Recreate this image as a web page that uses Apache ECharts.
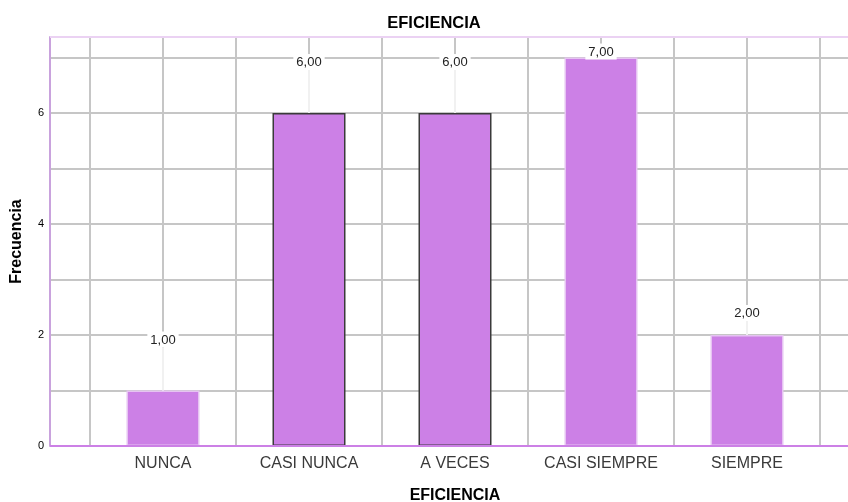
<!DOCTYPE html>
<html><head><meta charset="utf-8">
<script src="https://cdn.jsdelivr.net/npm/echarts@6/dist/echarts.min.js"></script>
<style>html,body{margin:0;padding:0;background:#fff}#c{width:848px;height:502px}</style>
</head><body><div id="c"></div>
<script>
const categories = ['NUNCA', 'CASI NUNCA', 'A VECES', 'CASI SIEMPRE', 'SIEMPRE'];
const frecuencia = [1, 6, 6, 7, 2];
const yTicks = [0, 2, 4, 6];
const titleText = 'EFICIENCIA';
const xName = 'EFICIENCIA';
const yName = 'Frecuencia';

// style-only per-bar settings
const labelLift = [43, 43, 43, -2, 14];
const borderCols = ['#E6C3F2', '#3a3a3a', '#3a3a3a', '#E6C3F2', '#E6C3F2'];

const FONT = 'Liberation Sans, Arial, sans-serif';
const YMAX = 7.37;
const chart = echarts.init(document.getElementById('c'));
chart.setOption({
  animation: false,
  backgroundColor: '#fff',
  title: { text: titleText, left: 429, textAlign: 'center', top: 10,
    textStyle: { fontFamily: FONT, fontSize: 16.5, fontWeight: 'bold', color: '#000' } },
  grid: [
    { left: 50, right: -4, top: 37, bottom: 56, containLabel: false, outerBoundsMode: 'none' },
    { left: 90, right: 28, top: 37, bottom: 56, containLabel: false, outerBoundsMode: 'none' }
  ],
  xAxis: [
    { gridIndex: 0, type: 'value', min: 0, max: 1, axisLine: { show: false }, axisTick: { show: false }, axisLabel: { show: false }, splitLine: { show: false } },
    { gridIndex: 1, type: 'category', data: categories, axisLine: { show: false }, axisTick: { show: false },
      axisLabel: { fontFamily: FONT, fontSize: 16, color: '#3a3a3a', margin: 10, interval: 0 },
      splitLine: { show: false },
      name: xName, nameLocation: 'middle', nameGap: 42,
      nameTextStyle: { fontFamily: FONT, fontSize: 16, fontWeight: 'bold', color: '#000' } },
    { gridIndex: 1, type: 'value', min: 0, max: 10, interval: 1, position: 'top',
      axisLine: { show: false }, axisTick: { show: false }, axisLabel: { show: false },
      splitLine: { show: true, lineStyle: { color: '#c6c6c6', width: 2 } } }
  ],
  yAxis: [
    { gridIndex: 0, type: 'value', min: 0, max: YMAX, interval: 1,
      axisLine: { show: true, lineStyle: { color: '#C9A2DD', width: 2 } }, axisTick: { show: false },
      axisLabel: { fontFamily: FONT, fontSize: 11, color: '#000', margin: 6, showMaxLabel: false,
        formatter: v => yTicks.includes(v) ? String(v) : '' },
      splitLine: { show: true, lineStyle: { color: '#c6c6c6', width: 2 } },
      name: yName, nameLocation: 'middle', nameGap: 25,
      nameTextStyle: { fontFamily: FONT, fontSize: 16, fontWeight: 'bold', color: '#000' } },
    { gridIndex: 1, type: 'value', min: 0, max: YMAX, show: false, splitLine: { show: false } }
  ],
  series: [
    { type: 'line', xAxisIndex: 0, yAxisIndex: 0, data: [], silent: true, z: 4,
      markLine: { silent: true, symbol: 'none', label: { show: false }, animation: false,
        data: [
          { yAxis: 0, lineStyle: { color: '#CC80E6', width: 2, type: 'solid' } },
          { yAxis: YMAX, lineStyle: { color: '#EBD2F3', width: 2, type: 'solid' } }
        ] } },
    { type: 'bar', xAxisIndex: 1, yAxisIndex: 1, barWidth: 73,
      data: frecuencia.map((v, i) => ({ value: v,
        itemStyle: { color: '#CC80E6', borderColor: borderCols[i], borderWidth: 1.5 } })),
      label: { show: true, position: 'top', distance: 0, fontFamily: FONT, fontSize: 13, color: '#222',
        backgroundColor: '#fff', padding: [2, 3, 1, 3],
        formatter: p => p.value.toFixed(2).replace('.', ',') },
      labelLayout: p => ({ dy: -labelLift[p.dataIndex] }),
      labelLine: { show: true, lineStyle: { color: '#ffffff', width: 1.5 } },
      z: 3 }
  ]
});
</script></body></html>
